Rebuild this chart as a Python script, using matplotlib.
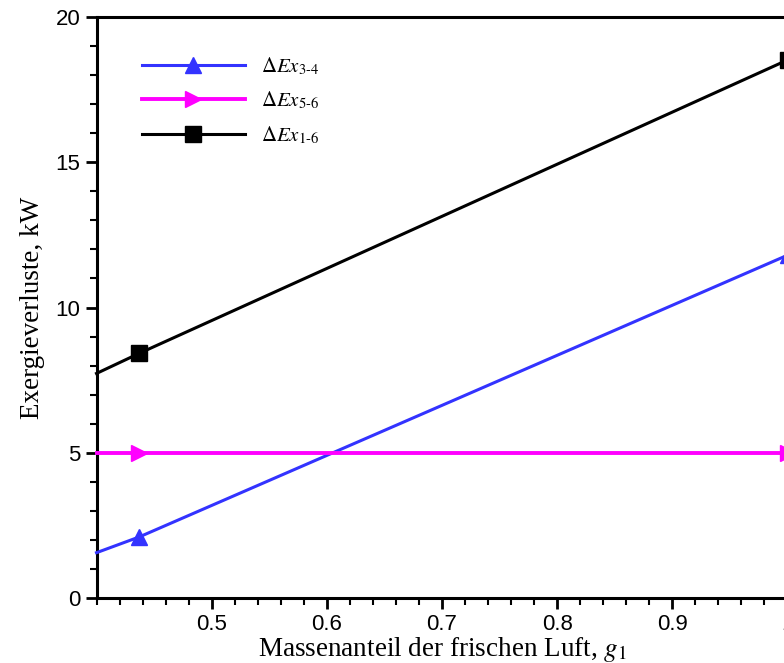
import matplotlib
matplotlib.use("Agg")
import matplotlib.pyplot as plt
from matplotlib.ticker import MultipleLocator

# mass fraction of fresh air (first point is where the lines start, no marker)
g1 = [0.40, 0.437, 1.00]
dEx_34 = [1.56, 2.10, 11.80]
dEx_56 = [5.0, 5.0, 5.0]
dEx_16 = [7.73, 8.42, 18.52]

labels = [r'$\Delta Ex_{\mathrm{3\text{-}4}}$',
          r'$\Delta Ex_{\mathrm{5\text{-}6}}$',
          r'$\Delta Ex_{\mathrm{1\text{-}6}}$']

plt.rcParams['mathtext.fontset'] = 'stix'
plt.rcParams['font.family'] = ['Liberation Sans', 'DejaVu Sans']

fig = plt.figure(figsize=(7.84, 6.63), dpi=100)
ax = fig.add_axes([96.5 / 784, 1 - 598 / 663, 691 / 784, 581 / 663])

ax.plot(g1, dEx_34, color='#3333ff', lw=2.2, marker='^', ms=11.5, markevery=[1, 2],
        clip_on=False, zorder=3, label=labels[0])
ax.plot(g1, dEx_56, color='#ff00ff', lw=2.8, marker='>', ms=11.5, markevery=[1, 2],
        clip_on=False, zorder=3, label=labels[1])
ax.plot(g1, dEx_16, color='black', lw=2.2, marker='s', ms=11.5, markevery=[1, 2],
        clip_on=False, zorder=3, label=labels[2])

ax.set_xlim(0.4, 1.0)
ax.set_ylim(0, 20)
ax.xaxis.set_major_locator(MultipleLocator(0.1))
ax.xaxis.set_minor_locator(MultipleLocator(0.02))
ax.yaxis.set_major_locator(MultipleLocator(5))
ax.yaxis.set_minor_locator(MultipleLocator(1))
ax.set_xticks([0.5, 0.6, 0.7, 0.8, 0.9, 1.0])
ax.set_xticklabels(['0.5', '0.6', '0.7', '0.8', '0.9', '1'])

ax.tick_params(which='major', direction='out', length=8, width=2, labelsize=16,
               top=False, right=False)
ax.tick_params(which='minor', direction='out', length=5, width=1.5,
               top=False, right=False)
for side in ['left', 'bottom', 'top']:
    ax.spines[side].set_linewidth(2.2)
ax.spines['right'].set_linewidth(1)
ax.spines['right'].set_color('gray')

ax.set_xlabel(r'Massenanteil der frischen Luft, $g_{\mathrm{1}}$',
              family='Liberation Serif', fontsize=19.5, labelpad=0)
ax.set_ylabel('Exergieverluste, kW', family='Liberation Serif', fontsize=19.5, labelpad=8)

leg = ax.legend(loc='upper left', bbox_to_anchor=(0.038, 0.967), frameon=False,
                fontsize=15, handlelength=4.95, handletextpad=0.8, labelspacing=0.62)

plt.savefig('out.png', dpi=100)
plt.close()
